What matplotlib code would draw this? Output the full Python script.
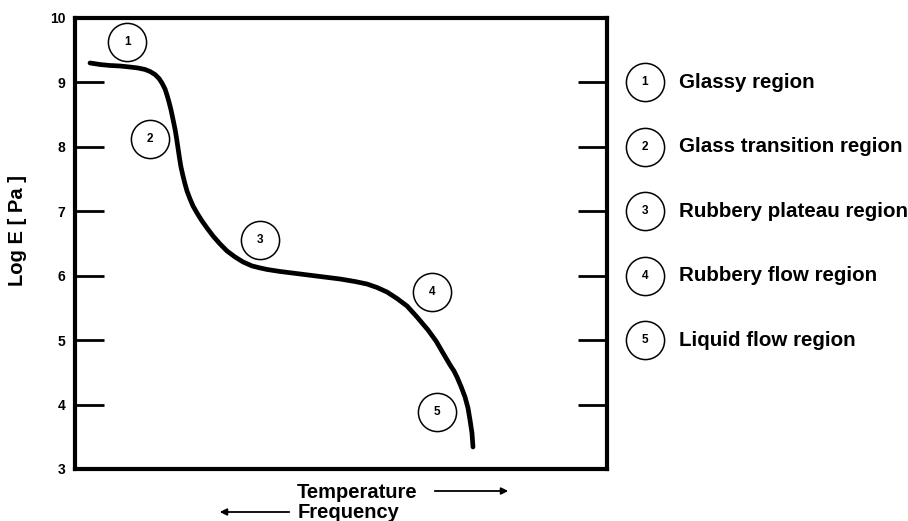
import matplotlib
matplotlib.use("Agg")
import matplotlib.pyplot as plt

plt.rcParams['font.family'] = ['Liberation Sans', 'DejaVu Sans']

# Curve (x: arbitrary temperature units 0-100, y: Log E)
curve_x = [2.82, 4.70, 6.58, 8.46, 10.34, 11.84, 13.16, 14.10, 15.04, 15.79,
           16.35, 16.92, 17.29, 17.67, 18.05, 18.42, 18.80, 19.08, 19.36, 19.64,
           19.92, 20.30, 20.68, 21.05, 21.62, 22.18, 22.93, 23.87, 24.81, 25.94,
           27.26, 28.57, 30.08, 31.58, 33.27, 34.77, 36.09, 38.53, 42.29, 46.05,
           49.81, 52.63, 54.89, 56.77, 58.65, 60.53, 62.41, 64.29, 66.35, 67.86,
           69.17, 70.49, 71.24, 71.80, 72.56, 73.31, 73.87, 74.25, 74.62, 74.81]
curve_y = [9.302, 9.278, 9.263, 9.255, 9.239, 9.224, 9.201, 9.170, 9.123, 9.061,
           8.991, 8.898, 8.805, 8.696, 8.572, 8.428, 8.277, 8.138, 7.982, 7.827,
           7.687, 7.548, 7.424, 7.315, 7.191, 7.083, 6.974, 6.850, 6.741, 6.617,
           6.493, 6.384, 6.291, 6.214, 6.152, 6.121, 6.097, 6.066, 6.027, 5.988,
           5.949, 5.910, 5.871, 5.817, 5.747, 5.646, 5.530, 5.359, 5.158, 4.987,
           4.801, 4.616, 4.521, 4.428, 4.281, 4.118, 3.947, 3.761, 3.559, 3.342]

# Region markers on the curve
region_ids = ["1", "2", "3", "4", "5"]
region_x = [9.8, 14.1, 34.8, 67.1, 68.0]
region_y = [9.63, 8.12, 6.55, 5.75, 3.88]

# Legend entries
legend_labels = ["Glassy region", "Glass transition region", "Rubbery plateau region",
                 "Rubbery flow region", "Liquid flow region"]
legend_y = [9, 8, 7, 6, 5]

ytick_vals = [3, 4, 5, 6, 7, 8, 9, 10]
ytick_labels = ["3", "4", "5", "6", "7", "8", "9", "10"]

fig = plt.figure(figsize=(9.08, 5.21), dpi=100)
ax = fig.add_axes([75/908, 52/521, 532/908, 451/521])
ax.set_xlim(0, 100)
ax.set_ylim(3, 10)

ax.plot(curve_x, curve_y, color='black', lw=3.4, solid_capstyle='round',
        solid_joinstyle='round')

ms = 27.5
ax.plot(region_x, region_y, 'o', ms=ms, mfc='white', mec='black', mew=1.1, ls='none')
for rid, rx, ry in zip(region_ids, region_x, region_y):
    ax.text(rx, ry, rid, ha='center', va='center', fontsize=8.5, fontweight='bold')

# Legend (outside the axes on the right)
lx_circle = 107.1
lx_text = 113.6
ax.plot([lx_circle] * len(legend_y), legend_y, 'o', ms=ms, mfc='white', mec='black',
        mew=1.1, ls='none', clip_on=False)
for i, (lab, ly) in enumerate(zip(legend_labels, legend_y)):
    ax.text(lx_circle, ly, region_ids[i], ha='center', va='center', fontsize=8.5,
            fontweight='bold', clip_on=False)
    ax.text(lx_text, ly, lab, ha='left', va='center', fontsize=14.8,
            fontweight='bold', clip_on=False)

for sp in ax.spines.values():
    sp.set_linewidth(3)

ax.set_xticks([])
ax.set_yticks(ytick_vals)
ax.set_yticklabels(ytick_labels, fontsize=10, fontweight='bold')
ax.tick_params(axis='y', direction='in', length=21, width=2, left=True, right=True,
               labelleft=True, labelright=False, pad=7)
for t, v in zip(ax.yaxis.get_major_ticks(), ytick_vals):
    if v in (3, 10):
        t.tick1line.set_visible(False)
        t.tick2line.set_visible(False)

fig.text(18/908, 1 - 230/521, "Log E [ Pa ]", rotation=90, ha='center', va='center',
         fontsize=14.5, fontweight='bold')

fig.text(297/908, 1 - 492/521, "Temperature", ha='left', va='center', fontsize=14.5,
         fontweight='bold')
fig.text(298/908, 1 - 512/521, "Frequency", ha='left', va='center', fontsize=14.5,
         fontweight='bold')

fig.add_artist(matplotlib.patches.FancyArrowPatch(
    (432/908, 1 - 491/521), (511/908, 1 - 491/521), transform=fig.transFigure,
    arrowstyle='-|>,head_length=4,head_width=2', mutation_scale=1, lw=1.3, color='black'))
fig.add_artist(matplotlib.patches.FancyArrowPatch(
    (292/908, 1 - 512/521), (217/908, 1 - 512/521), transform=fig.transFigure,
    arrowstyle='-|>,head_length=4,head_width=2', mutation_scale=1, lw=1.3, color='black'))

fig.savefig("out.png", dpi=100)
